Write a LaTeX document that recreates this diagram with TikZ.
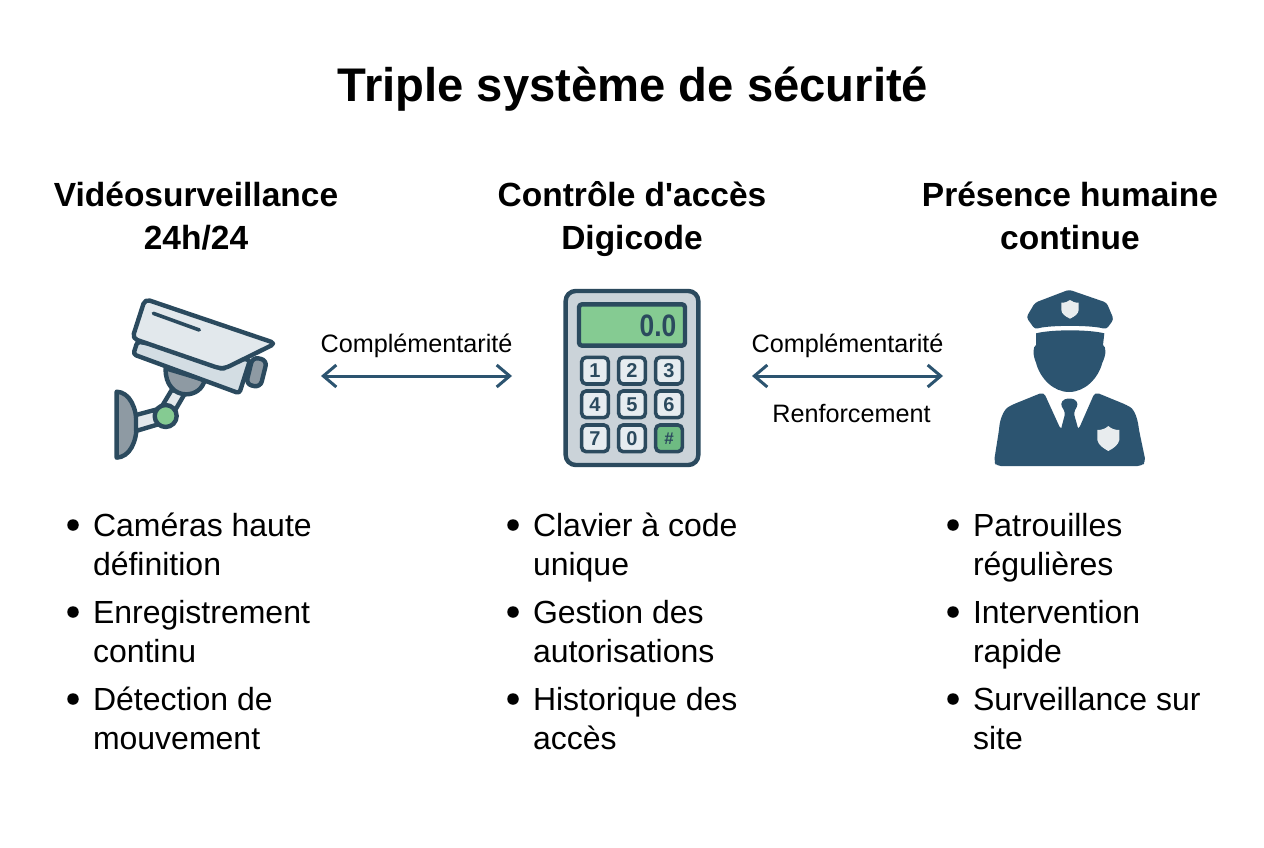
\documentclass[tikz,border=0pt]{standalone}
\usepackage{fontspec}
\newfontfamily\rb{Liberation Sans}
\usetikzlibrary{arrows.meta}
\definecolor{ink}{HTML}{2B4A5E}
\definecolor{navy}{HTML}{2C5470}
\definecolor{lite}{HTML}{E2E8EC}
\definecolor{lite2}{HTML}{D3DDE3}
\definecolor{greyf}{HTML}{8E9AA3}
\definecolor{padf}{HTML}{CBD3D9}
\definecolor{keyf}{HTML}{E6ECF0}
\definecolor{grn}{HTML}{85CB92}
\definecolor{grn2}{HTML}{6EBB82}
\definecolor{badge}{HTML}{E8ECEE}
\tikzset{
 every node/.style={font=\rb,inner sep=0pt,outer sep=0pt,text=black},
 titlet/.style={anchor=base,font=\rb\bfseries\fontsize{47.2}{48}\selectfont},
 headt/.style={anchor=base,font=\rb\bfseries\fontsize{33.5}{32}\selectfont},
 itemt/.style={anchor=base west,font=\rb\fontsize{32}{32}\selectfont},
 linkt/.style={anchor=base,font=\rb\fontsize{25.2}{24}\selectfont},
 bul/.style={circle,fill=black,minimum size=11.5pt},
 link/.style={draw=navy,line width=3pt,{Straight Barb[length=13pt,width=22pt,line width=3pt]}-{Straight Barb[length=13pt,width=22pt,line width=3pt]}},
 ic/.style={draw=ink,line width=4.4pt,line join=round},
 zoomed/.style={x=0.33333pt,y=-0.33333pt},
 keyb/.style={draw=ink,line width=3.6pt,rounded corners=4.5pt,fill=keyf},
 keyn/.style={anchor=center,text=ink,font=\rb\bfseries\fontsize{20}{20}\selectfont},
}
\begin{document}
\begin{tikzpicture}[x=1pt,y=-1pt]
\useasboundingbox (0,0) rectangle (1264,848);
\fill[white] (0,0) rectangle (1264,848);
\node[titlet] (title) at (633,102) {Triple système de sécurité};
% heads
\node[headt] (h1a) at (196,207) {Vidéosurveillance};
\node[headt] (h1b) at (196,249) {24h/24};
\node[headt] (h2a) at (632,207) {Contrôle d'accès};
\node[headt] (h2b) at (632,249) {Digicode};
\node[headt] (h3a) at (1070,207) {Présence humaine};
\node[headt] (h3b) at (1070,249) {continue};
% camera
\begin{scope}[shift={(100,285)},zoomed]
 \path[ic,fill=greyf] (50,320) .. controls (90,322) and (110,370) .. (110,420) .. controls (110,470) and (90,516) .. (50,518) -- cycle;
 \path[ic,fill=lite] (108,390) -- (175,372) -- (185,415) -- (108,438) -- cycle;
 \path[ic,fill=lite] (215,315) -- (185,365) -- (220,385) -- (255,325) -- cycle;
 \path[ic,fill=greyf] (197,250) .. controls (195,300) and (225,328) .. (258,328) .. controls (285,328) and (308,312) .. (314,285) -- cycle;
 \path[ic,fill=greyf,rounded corners=6pt] (458,216) -- (501,226) -- (481,307) -- (438,298) -- cycle;
 \path[ic,fill=lite2,rounded corners=3pt] (112,170) -- (100,208) -- (418,325) -- (450,225) -- cycle;
 \path[ic,fill=lite,rounded corners=5pt] (135,42) -- (527,175) -- (375,250) -- (358,250) -- (97,160) -- cycle;
 \draw[draw=ink,line width=3.6pt,line cap=round] (160,85) -- (298,135);
 \path[ic,fill=grn] (197,393) circle[radius=33];
\end{scope}
% keypad
\begin{scope}[shift={(555,280)},zoomed]
 \path[ic,fill=padf,rounded corners=10pt] (32,33) rectangle (430,555);
 \path[ic,fill=grn,rounded corners=3pt] (72,73) rectangle (390,197);
 \node[anchor=east,xscale=0.85,text=ink,font=\rb\bfseries\fontsize{31}{31}\selectfont] (disp) at (364,137) {0.0};
 \foreach \nm/\cx/\cy/\lab in {k1/120/272/1,k2/231/272/2,k3/342/272/3,k4/120/373/4,k5/231/373/5,k6/342/373/6,k7/120/475/7,k0/231/475/0}{
  \path[keyb] (\cx-40,\cy-40) rectangle (\cx+40,\cy+40);
  \node[keyn] (\nm) at (\cx,\cy) {\lab};
 }
 \path[keyb,fill=grn2] (302,435) rectangle (382,515);
 \node[keyn,font=\rb\bfseries\fontsize{17}{17}\selectfont] (kh) at (342,475) {\#};
\end{scope}
% officer
\begin{scope}[shift={(985,280)},zoomed]
 \fill[navy,rounded corners=3pt] (252,29) -- (365,68) -- (386,118) -- (364,148) .. controls (320,135) and (190,135) .. (150,148) -- (124,112) -- (150,68) -- cycle;
 \fill[badge] (229,68) .. controls (240,68) and (248,66) .. (255,60) .. controls (262,66) and (270,68) .. (281,68) -- (281,90) .. controls (280,102) and (268,110) .. (255,116) .. controls (242,110) and (230,102) .. (229,90) -- cycle;
 \fill[navy] (153,160) .. controls (200,148) and (310,148) .. (358,160) -- (354,195) .. controls (364,200) and (364,225) .. (352,248) .. controls (340,295) and (300,336) .. (252,336) .. controls (205,336) and (165,295) .. (153,248) .. controls (143,225) and (143,200) .. (153,195) -- cycle;
 \fill[navy,rounded corners=4pt] (176,336) -- (80,375) .. controls (55,390) and (45,420) .. (42,450) -- (27,545) -- (35,558) -- (470,558) -- (482,545) -- (462,450) .. controls (458,420) and (450,390) .. (425,375) -- (330,336) -- (280,450) -- (228,450) -- cycle;
 \fill[navy,rounded corners=3pt] (226,372) -- (238,356) -- (268,356) -- (280,372) -- (266,398) -- (282,455) -- (226,455) -- (241,398) -- cycle;
 \fill[badge] (337,450) .. controls (350,450) and (362,446) .. (370,438) .. controls (378,446) and (390,450) .. (403,450) -- (403,480) .. controls (400,495) and (385,505) .. (370,513) .. controls (355,505) and (340,495) .. (337,480) -- cycle;
\end{scope}
% connectors
\coordinate (c1l) at (321,376);
\coordinate (c1r) at (512,376);
\coordinate (c2l) at (752,376);
\coordinate (c2r) at (943,376);
\draw[link] (c1l) -- (c1r);
\draw[link] (c2l) -- (c2r);
\node[linkt] (l1) at (416.5,352) {Complémentarité};
\node[linkt] (l2) at (847.5,352) {Complémentarité};
\node[linkt] (l3) at (851.5,422) {Renforcement};
% bullets col 1
\node[bul] (b11) at (73,525) {};
\node[bul] (b12) at (73,612) {};
\node[bul] (b13) at (73,699) {};
\node[itemt] (t11) at (93,536) {Caméras haute};
\node[itemt] (t12) at (93,575) {définition};
\node[itemt] (t13) at (93,623) {Enregistrement};
\node[itemt] (t14) at (93,662) {continu};
\node[itemt] (t15) at (93,710) {Détection de};
\node[itemt] (t16) at (93,749) {mouvement};
% col 2
\node[bul] (b21) at (513,525) {};
\node[bul] (b22) at (513,612) {};
\node[bul] (b23) at (513,699) {};
\node[itemt] (t21) at (533,536) {Clavier à code};
\node[itemt] (t22) at (533,575) {unique};
\node[itemt] (t23) at (533,623) {Gestion des};
\node[itemt] (t24) at (533,662) {autorisations};
\node[itemt] (t25) at (533,710) {Historique des};
\node[itemt] (t26) at (533,749) {accès};
% col 3
\node[bul] (b31) at (953,525) {};
\node[bul] (b32) at (953,612) {};
\node[bul] (b33) at (953,699) {};
\node[itemt] (t31) at (973,536) {Patrouilles};
\node[itemt] (t32) at (973,575) {régulières};
\node[itemt] (t33) at (973,623) {Intervention};
\node[itemt] (t34) at (973,662) {rapide};
\node[itemt] (t35) at (973,710) {Surveillance sur};
\node[itemt] (t36) at (973,749) {site};
\end{tikzpicture}
\end{document}
